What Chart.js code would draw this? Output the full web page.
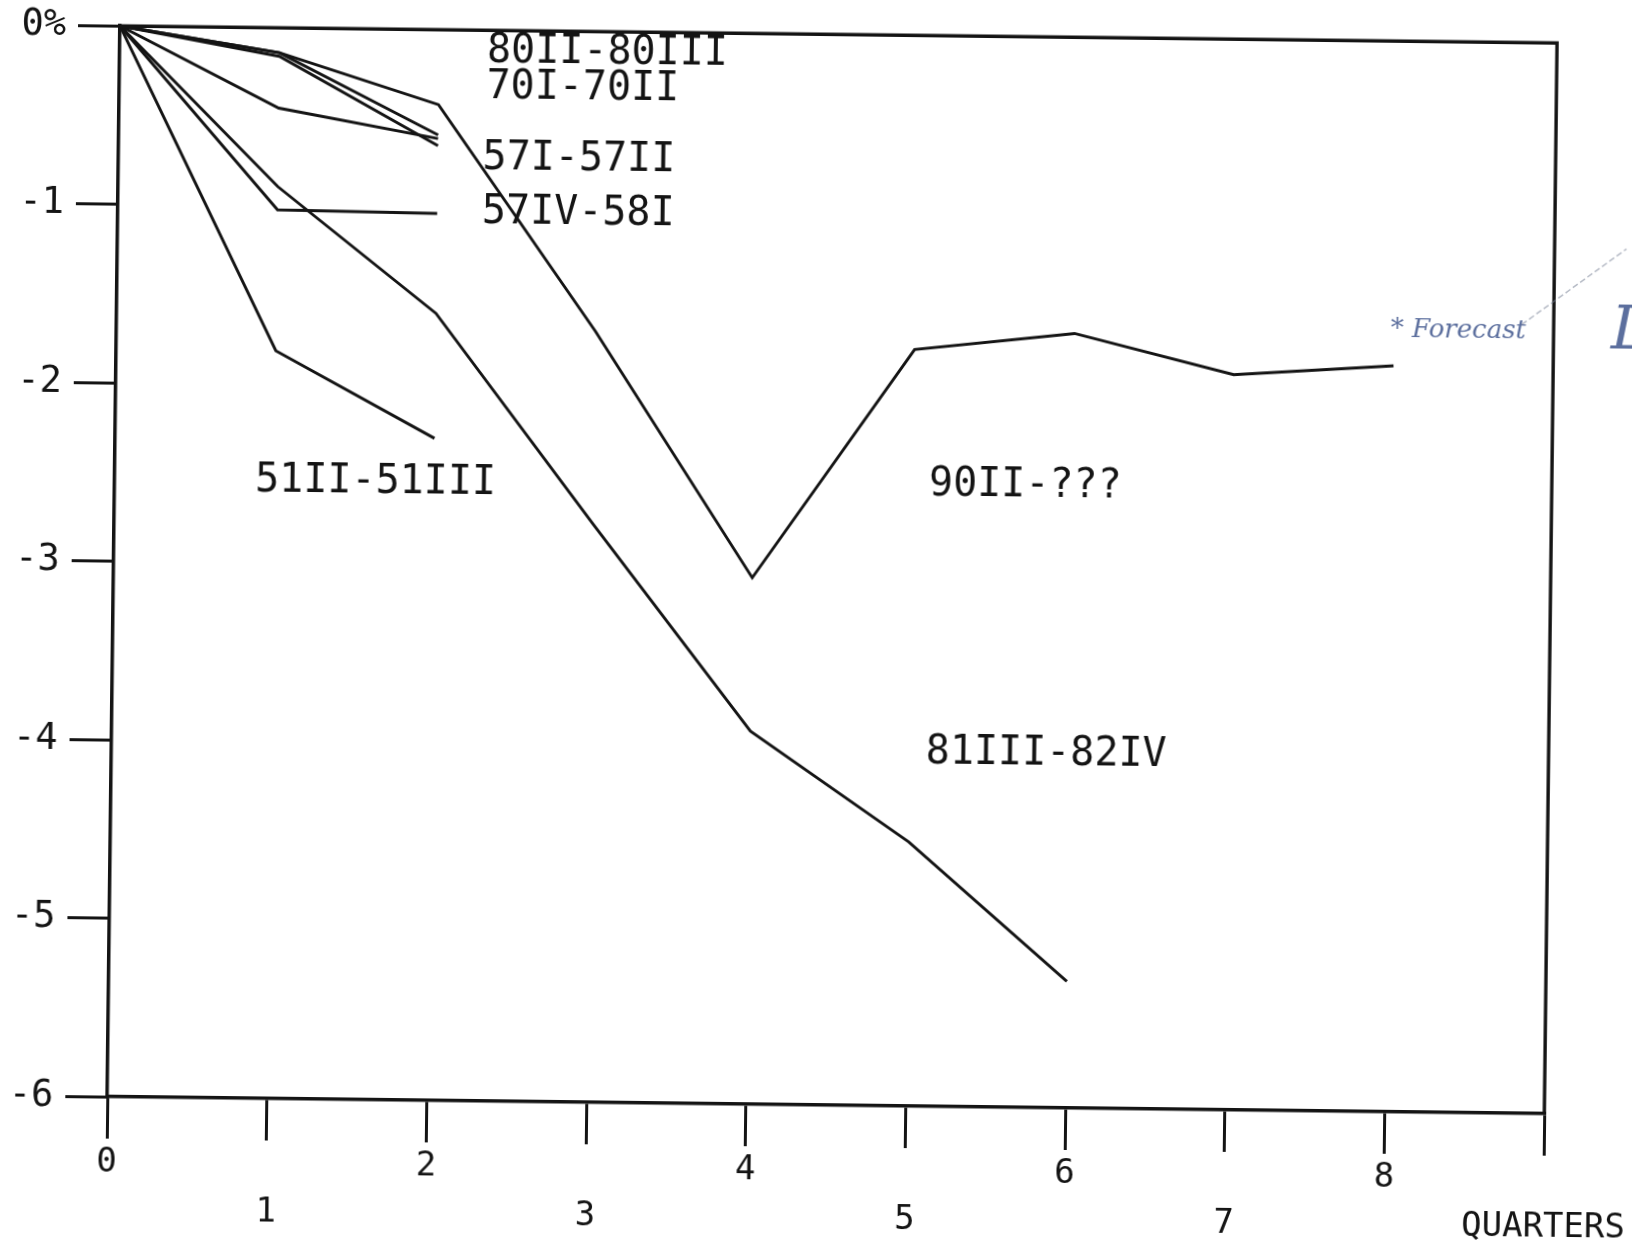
<!DOCTYPE html>
<html>
<head>
<meta charset="utf-8">
<title>Recessions — output decline by quarter</title>
<script src="https://cdn.jsdelivr.net/npm/chart.js@4.4.1/dist/chart.umd.min.js"></script>
<style>
  html, body { margin: 0; padding: 0; background: #fff; overflow: hidden; }
  #wrap { width: 1632px; height: 1243px; }
  /* the original is a scanned plot, sitting slightly askew */
  #chart { display: block; transform: rotate(0.68deg); transform-origin: 50% 50%; }
</style>
</head>
<body>
<div id="wrap"><canvas id="chart" width="1632" height="1243"></canvas></div>
<script>
// ---------------------------------------------------------------
// DATA (percent change from the peak, by quarter)
// ---------------------------------------------------------------
const quarters = [0, 1, 2, 3, 4, 5, 6, 7, 8];

const s80II_80III = [0, -0.14, -0.59];
const s70I_70II   = [0, -0.45, -0.61];
const s57I_57II   = [0, -0.16, -0.65];
const s57IV_58I   = [0, -1.02, -1.03];
const s51II_51III = [0, -1.81, -2.29];
const s81III_82IV = [0, -0.89, -1.59, -2.76, -3.91, -4.52, -5.29];
const s90II       = [0, -0.14, -0.42, -1.68, -3.05, -1.76, -1.66, -1.88, -1.82];

const xTickLabels = ['0', '1', '2', '3', '4', '5', '6', '7', '8', ''];
const yTickLabels = ['-6', '-5', '-4', '-3', '-2', '-1', '0%'];
const axisTitle = 'QUARTERS';

// series names, written next to the lines
const seriesNames = ['80II-80III', '70I-70II', '57I-57II', '57IV-58I', '51II-51III', '81III-82IV', '90II-???'];
const nameAnchorX = [2.30, 2.30, 2.28, 2.28, 0.88, 5.10, 5.10];
const nameAnchorY = [-0.12, -0.32, -0.72, -1.02, -2.54, -4.02, -2.52];

// ---------------------------------------------------------------
// HELPERS
// ---------------------------------------------------------------
const INK = '#141414';
const PEN = '#5c6f9e';
const PLOT_FONT = '"DejaVu Sans Mono", "Liberation Mono", monospace';

function toPoints(values) {
    return values.map((v, i) => ({ x: quarters[i], y: v }));
}

function lineSet(label, values) {
    return {
        label,
        data: toPoints(values),
        borderColor: INK,
        borderWidth: 2.9,
        pointRadius: 0,
        tension: 0,
        fill: false
    };
}

// frame (top + right edge) and the written annotations
const framePlugin = {
    id: 'frame',
    afterDatasetsDraw(chart) {
        const { ctx, chartArea: a, scales: { x, y } } = chart;
        ctx.save();
        ctx.strokeStyle = INK;
        ctx.lineWidth = 3.4;
        ctx.beginPath();
        ctx.moveTo(a.left, a.top);
        ctx.lineTo(a.right, a.top);
        ctx.lineTo(a.right, a.bottom);
        ctx.stroke();

        ctx.fillStyle = INK;
        ctx.font = '40px ' + PLOT_FONT;
        ctx.textAlign = 'left';
        ctx.textBaseline = 'middle';
        seriesNames.forEach((name, i) => {
            ctx.fillText(name, x.getPixelForValue(nameAnchorX[i]), y.getPixelForValue(nameAnchorY[i]));
        });

        // hand-written note next to the 90II line
        ctx.fillStyle = PEN;
        ctx.font = 'italic 26px "DejaVu Serif", serif';
        ctx.fillText('* Forecast', x.getPixelForValue(7.98), y.getPixelForValue(-1.62));

        ctx.strokeStyle = 'rgba(120,130,150,0.55)';
        ctx.lineWidth = 1.5;
        ctx.setLineDash([6, 3]);
        ctx.beginPath();
        ctx.moveTo(x.getPixelForValue(8.8), y.getPixelForValue(-1.58));
        ctx.lineTo(x.getPixelForValue(9.45), y.getPixelForValue(-1.15));
        ctx.stroke();

        // scraps of the margin note, cut off by the page edge
        ctx.setLineDash([]);
        ctx.fillStyle = PEN;
        ctx.font = 'italic 60px "DejaVu Serif", serif';
        ctx.fillText('L', x.getPixelForValue(9.36), y.getPixelForValue(-1.62));
        ctx.restore();
    }
};

// ---------------------------------------------------------------
// CHART
// ---------------------------------------------------------------
const ctx = document.getElementById('chart').getContext('2d');

new Chart(ctx, {
    type: 'line',
    data: {
        datasets: [
            lineSet(seriesNames[0], s80II_80III),
            lineSet(seriesNames[1], s70I_70II),
            lineSet(seriesNames[2], s57I_57II),
            lineSet(seriesNames[3], s57IV_58I),
            lineSet(seriesNames[4], s51II_51III),
            lineSet(seriesNames[5], s81III_82IV),
            lineSet(seriesNames[6], s90II)
        ]
    },
    options: {
        responsive: false,
        animation: false,
        layout: { padding: { left: 0, top: 30, right: 80, bottom: 0 } },
        plugins: {
            legend: { display: false },
            tooltip: { enabled: false }
        },
        scales: {
            x: {
                type: 'linear',
                min: 0,
                max: 9,
                afterFit: s => { s.height = 138; },
                afterBuildTicks: s => { s.ticks = xTickLabels.map((_, i) => ({ value: i })); },
                border: { display: true, color: INK, width: 3.5 },
                grid: {
                    drawOnChartArea: false,
                    drawTicks: true,
                    tickLength: 42,
                    tickWidth: 3,
                    color: INK,
                    lineWidth: 3
                },
                ticks: {
                    color: INK,
                    padding: 0,
                    maxRotation: 0,
                    autoSkip: false,
                    font: { family: PLOT_FONT, size: 34, lineHeight: 1.42 },
                    // odd quarters sit on a second row
                    callback: (v) => {
                        if (v === 9) return ['', axisTitle];
                        return v % 2 === 0 ? xTickLabels[v] : ['', xTickLabels[v]];
                    }
                }
            },
            y: {
                type: 'linear',
                min: -6,
                max: 0,
                afterFit: s => { s.width = 113; },
                afterBuildTicks: s => { s.ticks = yTickLabels.map((_, i) => ({ value: i - 6 })); },
                border: { display: true, color: INK, width: 3.5 },
                grid: {
                    drawOnChartArea: false,
                    drawTicks: true,
                    tickLength: 42,
                    tickWidth: 3,
                    color: INK,
                    lineWidth: 3
                },
                ticks: {
                    color: INK,
                    padding: 12,
                    font: { family: PLOT_FONT, size: 37 },
                    callback: (v) => yTickLabels[v + 6]
                }
            }
        }
    },
    plugins: [framePlugin]
});
</script>
</body>
</html>
